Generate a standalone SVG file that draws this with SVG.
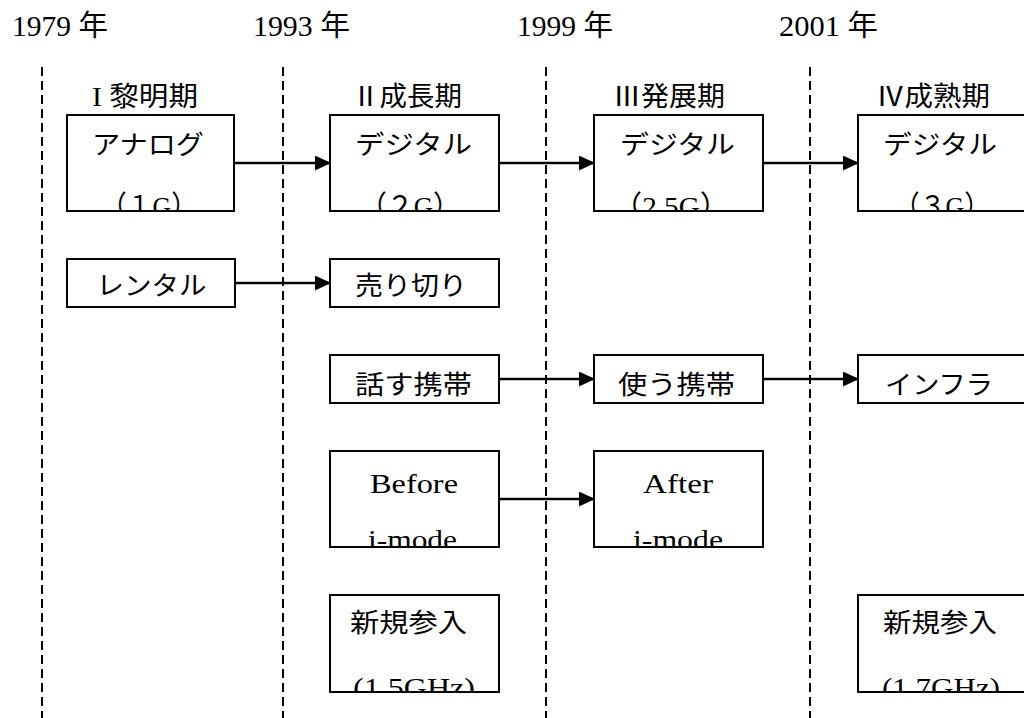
<svg xmlns="http://www.w3.org/2000/svg" width="1024" height="718" viewBox="0 0 1024 718">
<defs>
<style>
text{font-family:"Liberation Serif","Noto Sans CJK JP",serif;fill:#000;text-anchor:middle}
.yr{font-size:29px}
.pl{font-size:27px}
.bt{font-size:26px}
.lt{font-size:28px}
.box{fill:none;stroke:#000;stroke-width:2}
.dash{stroke:#000;stroke-width:2;stroke-dasharray:9 5;fill:none}
.conn{stroke:#000;stroke-width:2.5;fill:none;marker-end:url(#ah)}
</style>
<marker id="ah" markerUnits="userSpaceOnUse" markerWidth="17" markerHeight="16" refX="15" refY="7.5" orient="auto">
<path d="M0,0 L16,7.5 L0,15 Z" fill="#000"/>
</marker>
</defs>
<rect width="1024" height="718" fill="#fff"/>

<g id="years">
<text class="yr" x="60" y="36" textLength="96" lengthAdjust="spacingAndGlyphs">1979 年</text>
<text class="yr" x="301.5" y="36" textLength="97" lengthAdjust="spacingAndGlyphs">1993 年</text>
<text class="yr" x="565" y="36" textLength="96" lengthAdjust="spacingAndGlyphs">1999 年</text>
<text class="yr" x="828.5" y="36" textLength="99" lengthAdjust="spacingAndGlyphs">2001 年</text>
</g>

<g id="timelines">
<line class="dash" x1="42" y1="67" x2="42" y2="718"/>
<line class="dash" x1="283" y1="67" x2="283" y2="718"/>
<line class="dash" x1="546" y1="67" x2="546" y2="718"/>
<line class="dash" x1="810" y1="67" x2="810" y2="718"/>
</g>

<g id="periods">
<text class="pl" x="145" y="106" textLength="106" lengthAdjust="spacingAndGlyphs">I 黎明期</text>
<text class="pl" x="407" y="106" textLength="110" lengthAdjust="spacingAndGlyphs">Ⅱ成長期</text>
<text class="pl" x="669" y="106" textLength="112" lengthAdjust="spacingAndGlyphs">Ⅲ発展期</text>
<text class="pl" x="933" y="106" textLength="114" lengthAdjust="spacingAndGlyphs">Ⅳ成熟期</text>
</g>

<g id="connectors">
<line class="conn" x1="234" y1="163" x2="330" y2="163"/>
<line class="conn" x1="499" y1="163" x2="594" y2="163"/>
<line class="conn" x1="763" y1="163" x2="858" y2="163"/>
<line class="conn" x1="235" y1="283" x2="330" y2="283"/>
<line class="conn" x1="499" y1="379" x2="594" y2="379"/>
<line class="conn" x1="763" y1="379" x2="858" y2="379"/>
<line class="conn" x1="499" y1="499" x2="594" y2="499"/>
</g>

<g id="analog">
<svg x="67" y="115" width="167" height="96" viewBox="67 115 167 96">
<text class="bt" x="148" y="154" textLength="112" lengthAdjust="spacingAndGlyphs">アナログ</text>
<text class="lt" x="149" y="216" textLength="96" lengthAdjust="spacingAndGlyphs">（１G）</text>
</svg>
<rect class="box" x="67" y="115" width="167" height="96"/>
</g>

<g id="digital2g">
<svg x="330" y="115" width="169" height="96" viewBox="330 115 169 96">
<text class="bt" x="413.5" y="154" textLength="117" lengthAdjust="spacingAndGlyphs">デジタル</text>
<text class="lt" x="410" y="216" textLength="100" lengthAdjust="spacingAndGlyphs">（２G）</text>
</svg>
<rect class="box" x="330" y="115" width="169" height="96"/>
</g>

<g id="digital25g">
<svg x="594" y="115" width="169" height="96" viewBox="594 115 169 96">
<text class="bt" x="677.5" y="154" textLength="115" lengthAdjust="spacingAndGlyphs">デジタル</text>
<text class="lt" x="671" y="216" textLength="116" lengthAdjust="spacingAndGlyphs">（2.5G）</text>
</svg>
<rect class="box" x="594" y="115" width="169" height="96"/>
</g>

<g id="digital3g">
<svg x="858" y="115" width="170" height="96" viewBox="858 115 170 96">
<text class="bt" x="940" y="154" textLength="114" lengthAdjust="spacingAndGlyphs">デジタル</text>
<text class="lt" x="942" y="216" textLength="96" lengthAdjust="spacingAndGlyphs">（３G）</text>
</svg>
<rect class="box" x="858" y="115" width="170" height="96"/>
</g>

<g id="rental">
<rect class="box" x="67" y="259" width="168" height="48"/>
<text class="bt" x="151.5" y="295" textLength="110" lengthAdjust="spacingAndGlyphs">レンタル</text>
</g>

<g id="urikiri">
<rect class="box" x="330" y="259" width="169" height="48"/>
<text class="bt" x="411" y="295" textLength="112" lengthAdjust="spacingAndGlyphs">売り切り</text>
</g>

<g id="hanasu">
<rect class="box" x="330" y="355" width="169" height="48"/>
<text class="bt" x="413.5" y="394" textLength="117" lengthAdjust="spacingAndGlyphs">話す携帯</text>
</g>

<g id="tsukau">
<rect class="box" x="594" y="355" width="169" height="48"/>
<text class="bt" x="676.5" y="394" textLength="117" lengthAdjust="spacingAndGlyphs">使う携帯</text>
</g>

<g id="infra">
<rect class="box" x="858" y="355" width="170" height="48"/>
<text class="bt" x="939" y="394" textLength="108" lengthAdjust="spacingAndGlyphs">インフラ</text>
</g>

<g id="before">
<svg x="330" y="451" width="169" height="96" viewBox="330 451 169 96">
<text class="lt" x="414" y="493" textLength="88" lengthAdjust="spacingAndGlyphs">Before</text>
<text class="lt" x="412.5" y="549" textLength="89" lengthAdjust="spacingAndGlyphs">i-mode</text>
</svg>
<rect class="box" x="330" y="451" width="169" height="96"/>
</g>

<g id="after">
<svg x="594" y="451" width="169" height="96" viewBox="594 451 169 96">
<text class="lt" x="678" y="493" textLength="70" lengthAdjust="spacingAndGlyphs">After</text>
<text class="lt" x="678" y="549" textLength="90" lengthAdjust="spacingAndGlyphs">i-mode</text>
</svg>
<rect class="box" x="594" y="451" width="169" height="96"/>
</g>

<g id="newentry15">
<svg x="330" y="595" width="169" height="97" viewBox="330 595 169 97">
<text class="bt" x="408.5" y="632" textLength="117" lengthAdjust="spacingAndGlyphs">新規参入</text>
<text class="lt" x="414" y="697" textLength="122" lengthAdjust="spacingAndGlyphs">(1.5GHz)</text>
</svg>
<rect class="box" x="330" y="595" width="169" height="97"/>
</g>

<g id="newentry17">
<svg x="858" y="595" width="170" height="97" viewBox="858 595 170 97">
<text class="bt" x="940" y="632" textLength="114" lengthAdjust="spacingAndGlyphs">新規参入</text>
<text class="lt" x="941" y="697" textLength="118" lengthAdjust="spacingAndGlyphs">(1.7GHz)</text>
</svg>
<rect class="box" x="858" y="595" width="170" height="97"/>
</g>
</svg>
